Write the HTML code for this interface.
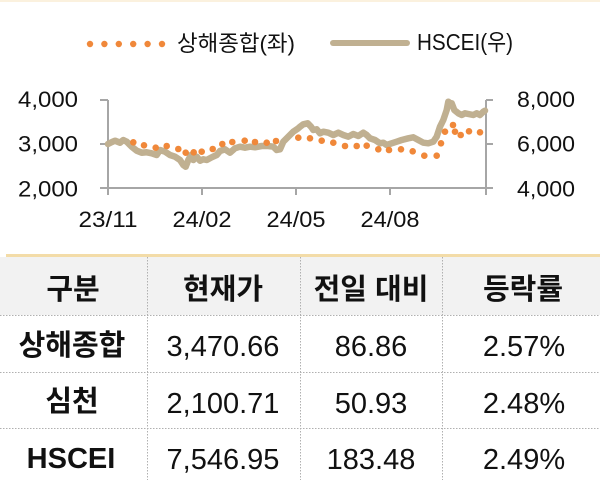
<!DOCTYPE html>
<html>
<head>
<meta charset="utf-8">
<style>
html,body{margin:0;padding:0;background:#fff;}
body{width:600px;height:480px;overflow:hidden;position:relative;}
svg{position:absolute;left:0;top:0;}
</style>
</head>
<body>
<svg width="600" height="480" viewBox="0 0 600 480" xmlns="http://www.w3.org/2000/svg">
  <!-- faint top band -->
  <rect x="0" y="0" width="600" height="2" fill="#fbf1de"/>

  <!-- Legend -->
  <g fill="#f0883a">
    <circle cx="90" cy="44" r="3.2"/>
    <circle cx="104.4" cy="44" r="3.2"/>
    <circle cx="118.8" cy="44" r="3.2"/>
    <circle cx="133.2" cy="44" r="3.2"/>
    <circle cx="147.6" cy="44" r="3.2"/>
    <circle cx="162" cy="44" r="3.2"/>
  </g>
  <text x="177" y="51" font-family="'Liberation Sans','Noto Sans CJK KR',sans-serif" font-size="22" fill="#111" textLength="118" lengthAdjust="spacingAndGlyphs">상해종합(좌)</text>
  <line x1="333" y1="43" x2="407" y2="43" stroke="#c0b091" stroke-width="6" stroke-linecap="round"/>
  <text x="417" y="50" font-family="'Liberation Sans','Noto Sans CJK KR',sans-serif" font-size="23" fill="#111" textLength="96" lengthAdjust="spacingAndGlyphs">HSCEI(우)</text>

  <!-- Axes -->
  <g stroke="#a6a6a6" stroke-width="2" fill="none">
    <line x1="108" y1="100" x2="108" y2="189"/>
    <line x1="100" y1="100" x2="108" y2="100"/>
    <line x1="100" y1="144" x2="108" y2="144"/>
    <line x1="100" y1="188" x2="108" y2="188"/>
    <line x1="107" y1="188" x2="487" y2="188"/>
    <line x1="108" y1="188" x2="108" y2="195"/>
    <line x1="202" y1="188" x2="202" y2="195"/>
    <line x1="296" y1="188" x2="296" y2="195"/>
    <line x1="390" y1="188" x2="390" y2="195"/>
    <line x1="486" y1="188" x2="486" y2="195"/>
    <line x1="486" y1="100" x2="486" y2="189"/>
    <line x1="486" y1="100" x2="493" y2="100"/>
    <line x1="486" y1="144" x2="493" y2="144"/>
    <line x1="486" y1="188" x2="493" y2="188"/>
  </g>

  <!-- Axis labels -->
  <g font-family="'Liberation Sans',sans-serif" font-size="22.5" fill="#111">
    <text x="78" y="107" text-anchor="end" textLength="60" lengthAdjust="spacingAndGlyphs">4,000</text>
    <text x="78" y="151.5" text-anchor="end" textLength="60" lengthAdjust="spacingAndGlyphs">3,000</text>
    <text x="78" y="196.5" text-anchor="end" textLength="60" lengthAdjust="spacingAndGlyphs">2,000</text>
    <text x="517" y="107" textLength="58" lengthAdjust="spacingAndGlyphs">8,000</text>
    <text x="517" y="151.5" textLength="58" lengthAdjust="spacingAndGlyphs">6,000</text>
    <text x="517" y="196.5" textLength="58" lengthAdjust="spacingAndGlyphs">4,000</text>
    <text x="78.5" y="227" textLength="59" lengthAdjust="spacingAndGlyphs">23/11</text>
    <text x="172.5" y="227" textLength="59" lengthAdjust="spacingAndGlyphs">24/02</text>
    <text x="266.5" y="227" textLength="59" lengthAdjust="spacingAndGlyphs">24/05</text>
    <text x="360.5" y="227" textLength="59" lengthAdjust="spacingAndGlyphs">24/08</text>
  </g>

  <!-- HSCEI line -->
  <polyline fill="none" stroke="#c0b091" stroke-width="6.5" stroke-linejoin="round" stroke-linecap="round"
    points="108,144 112,142 115,140.7 120,142.7 123.3,140 126.7,141.7 131.7,146.7 136.7,150.7 141.7,152.7 146.7,152.3 151.7,153.3 156.7,155 160,150 165,151.7 170,155 175,156.7 180,160 183.3,165 185.7,166.7 188.3,160 191,155 193.3,160 196.7,156.7 200,160.7 203.3,159.3 206.7,160 211.7,157.3 216.7,155 220,151 225,149.3 230,152.7 235,148.3 240,146.7 245,147.7 250,146.7 255,147.3 261.7,146 268.3,146 273.3,146.7 276.7,150 280,149.3 283.3,141.7 288.3,136.7 293.3,131.7 298.3,128.3 300,126.7 303.3,124.3 307.7,123.3 311,126.7 313.3,130 316.7,129.3 320,133.3 323.3,131.7 328.3,132.7 333.3,135 338.3,132.7 343.3,135 348.3,136.7 353.3,134 358.3,136 363.3,132.7 366.7,135 370,138.3 375,140 380,143.3 383.3,142.7 386.7,145 391.7,143.3 396.7,141.7 401.7,140 408.3,138.3 413.3,137.3 418.3,140 423.3,142.7 428.3,143.3 433.3,141.7 436.7,136.7 440,126.7 443.3,120 446.7,110 448.3,101.7 450,103 451.7,103.3 454.3,110 458.3,113.3 461.7,115 465,113.3 468.3,114 473.3,115 476.7,113.3 480,115 483.3,111.7 485,110.7"/>

  <!-- Shanghai dots -->
  <g fill="#f0883a">
    <circle cx="133.3" cy="142.3" r="3.3"/>
    <circle cx="144" cy="145.3" r="3.3"/>
    <circle cx="155.7" cy="147.7" r="3.3"/>
    <circle cx="166.7" cy="146" r="3.3"/>
    <circle cx="178.3" cy="149" r="3.3"/>
    <circle cx="185.7" cy="152.7" r="3.3"/>
    <circle cx="193.7" cy="152.3" r="3.3"/>
    <circle cx="201.7" cy="151.7" r="3.3"/>
    <circle cx="212.7" cy="149" r="3.3"/>
    <circle cx="222.3" cy="144" r="3.3"/>
    <circle cx="232.3" cy="142" r="3.3"/>
    <circle cx="244.7" cy="140.7" r="3.3"/>
    <circle cx="255" cy="142" r="3.3"/>
    <circle cx="266.7" cy="142.7" r="3.3"/>
    <circle cx="276" cy="141" r="3.3"/>
    <circle cx="298.3" cy="137.7" r="3.3"/>
    <circle cx="310" cy="138.3" r="3.3"/>
    <circle cx="321.7" cy="140.7" r="3.3"/>
    <circle cx="333.3" cy="142.7" r="3.3"/>
    <circle cx="345" cy="146" r="3.3"/>
    <circle cx="356.7" cy="146" r="3.3"/>
    <circle cx="366.7" cy="145.7" r="3.3"/>
    <circle cx="378.3" cy="149.3" r="3.3"/>
    <circle cx="389" cy="150" r="3.3"/>
    <circle cx="401" cy="149.3" r="3.3"/>
    <circle cx="412.7" cy="151.3" r="3.3"/>
    <circle cx="424.3" cy="155.7" r="3.3"/>
    <circle cx="436.7" cy="155.7" r="3.3"/>
    <circle cx="441" cy="143.3" r="3.3"/>
    <circle cx="445" cy="131.7" r="3.3"/>
    <circle cx="453" cy="125" r="3.3"/>
    <circle cx="455" cy="131.7" r="3.3"/>
    <circle cx="460.7" cy="135" r="3.3"/>
    <circle cx="469" cy="131.3" r="3.3"/>
    <circle cx="480" cy="132.3" r="3.3"/>
  </g>

  <!-- Table -->
  <rect x="0" y="257" width="600" height="58" fill="#f2f2f2"/>
  <rect x="6" y="254" width="594" height="3" fill="#f3dca8"/>
  <g stroke="#b0b0b0" stroke-width="1" stroke-dasharray="1.5,1.5" fill="none">
    <line x1="0" y1="315.5" x2="600" y2="315.5"/>
    <line x1="0" y1="372.5" x2="600" y2="372.5"/>
    <line x1="0" y1="428.5" x2="600" y2="428.5"/>
    <line x1="147.5" y1="257" x2="147.5" y2="480"/>
    <line x1="300.5" y1="257" x2="300.5" y2="480"/>
    <line x1="442.5" y1="257" x2="442.5" y2="480"/>
  </g>

  <g font-family="'Liberation Sans','Noto Sans CJK KR',sans-serif" fill="#111" text-anchor="middle">
    <g font-size="29" font-weight="bold">
      <text x="73" y="299">구분</text>
      <text x="223" y="299">현재가</text>
      <text x="371" y="299">전일 대비</text>
      <text x="523" y="299">등락률</text>
      <text x="72" y="355">상해종합</text>
      <text x="72" y="411">심천</text>
      <text x="71" y="468">HSCEI</text>
    </g>
    <g font-size="29">
      <text x="223" y="356">3,470.66</text>
      <text x="371" y="356">86.86</text>
      <text x="524" y="356">2.57%</text>
      <text x="223" y="413">2,100.71</text>
      <text x="371" y="413">50.93</text>
      <text x="524" y="413">2.48%</text>
      <text x="223" y="469">7,546.95</text>
      <text x="371" y="469">183.48</text>
      <text x="524" y="469">2.49%</text>
    </g>
  </g>
</svg>
</body>
</html>
